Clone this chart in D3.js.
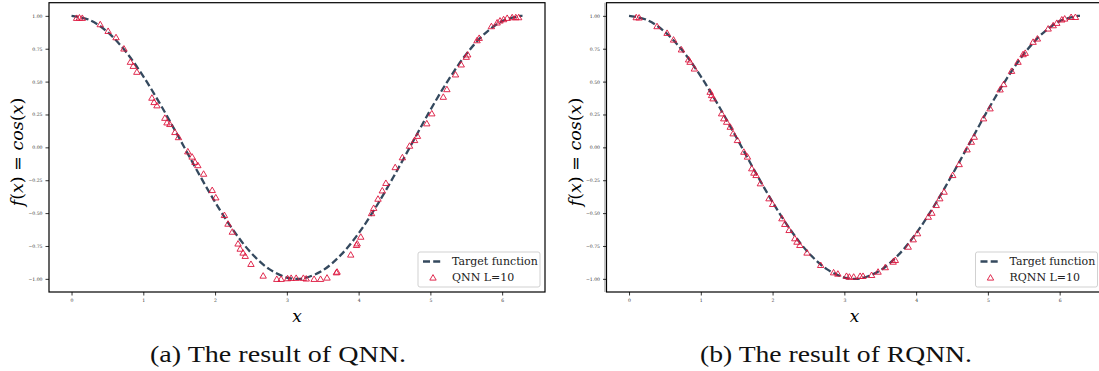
<!DOCTYPE html>
<html><head><meta charset="utf-8">
<script src="https://cdn.jsdelivr.net/npm/d3@7"></script>
<style>
html,body{margin:0;padding:0;background:#fff;}
svg{display:block;}
</style></head>
<body>
<svg id="chart" width="1099" height="371"></svg>
<script>
// ---- data ----
const xTicks = [0, 1, 2, 3, 4, 5, 6];
const yTicks = [-1.0, -0.75, -0.5, -0.25, 0.0, 0.25, 0.5, 0.75, 1.0];
const xDomain = [-0.314, 6.597];
const yDomain = [-1.1, 1.1];

const targetX = [0, 0.25, 0.5, 0.75, 1.0, 1.25, 1.5, 1.75, 2.0, 2.25, 2.5, 2.75, 3.0, 3.1416, 3.25, 3.5, 3.75, 4.0, 4.25, 4.5, 4.75, 5.0, 5.25, 5.5, 5.75, 6.0, 6.25, 6.2832];
const targetY = [1.0, 0.969, 0.878, 0.732, 0.540, 0.315, 0.071, -0.178, -0.416, -0.628, -0.801, -0.924, -0.990, -1.0, -0.994, -0.936, -0.820, -0.654, -0.446, -0.211, 0.037, 0.284, 0.512, 0.709, 0.861, 0.960, 0.999, 1.0];

const qnnX = [0.07, 0.11, 0.15, 0.40, 0.51, 0.62, 0.73, 0.82, 0.86, 0.91, 1.12, 1.15, 1.19, 1.30, 1.33, 1.37, 1.44, 1.49, 1.62, 1.68, 1.72, 1.76, 1.84, 1.96, 2.01, 2.13, 2.18, 2.24, 2.32, 2.35, 2.39, 2.42, 2.50, 2.67, 2.86, 2.92, 3.01, 3.06, 3.13, 3.23, 3.27, 3.38, 3.47, 3.56, 3.69, 3.70, 3.89, 3.97, 3.98, 4.03, 4.18, 4.21, 4.27, 4.33, 4.38, 4.51, 4.61, 4.71, 4.78, 4.82, 4.95, 5.02, 5.18, 5.23, 5.35, 5.43, 5.50, 5.52, 5.65, 5.68, 5.85, 5.93, 5.97, 6.02, 6.07, 6.14, 6.19, 6.23];
const qnnY = [0.985, 0.988, 0.985, 0.937, 0.886, 0.838, 0.752, 0.651, 0.620, 0.575, 0.378, 0.345, 0.320, 0.225, 0.190, 0.178, 0.117, 0.078, -0.030, -0.070, -0.110, -0.135, -0.200, -0.324, -0.380, -0.514, -0.580, -0.641, -0.731, -0.770, -0.800, -0.825, -0.886, -0.975, -1.000, -1.000, -0.995, -0.992, -0.992, -0.992, -0.997, -1.000, -1.000, -0.990, -0.950, -0.945, -0.815, -0.742, -0.730, -0.679, -0.500, -0.460, -0.390, -0.327, -0.270, -0.150, -0.075, 0.013, 0.056, 0.088, 0.183, 0.259, 0.385, 0.443, 0.555, 0.631, 0.689, 0.707, 0.815, 0.833, 0.922, 0.950, 0.965, 0.975, 0.985, 0.990, 0.990, 0.990];

const rqnnX = [0.10, 0.14, 0.39, 0.53, 0.62, 0.73, 0.83, 0.85, 0.91, 1.13, 1.15, 1.17, 1.29, 1.32, 1.36, 1.41, 1.45, 1.51, 1.60, 1.65, 1.71, 1.74, 1.77, 1.83, 1.95, 2.00, 2.13, 2.17, 2.23, 2.31, 2.34, 2.38, 2.48, 2.67, 2.85, 2.91, 3.03, 3.07, 3.13, 3.22, 3.26, 3.38, 3.47, 3.57, 3.68, 3.71, 3.89, 3.96, 4.02, 4.17, 4.22, 4.28, 4.33, 4.39, 4.51, 4.60, 4.71, 4.77, 4.81, 4.94, 5.03, 5.17, 5.22, 5.33, 5.42, 5.49, 5.52, 5.63, 5.69, 5.84, 5.91, 5.96, 6.03, 6.07, 6.16, 6.22];
const rqnnY = [0.990, 0.988, 0.922, 0.871, 0.820, 0.745, 0.669, 0.651, 0.600, 0.423, 0.398, 0.373, 0.259, 0.221, 0.195, 0.157, 0.107, 0.056, -0.033, -0.070, -0.159, -0.192, -0.210, -0.273, -0.387, -0.430, -0.539, -0.582, -0.628, -0.691, -0.717, -0.742, -0.800, -0.894, -0.950, -0.960, -0.977, -0.983, -0.983, -0.977, -0.977, -0.970, -0.945, -0.911, -0.869, -0.856, -0.755, -0.699, -0.653, -0.527, -0.497, -0.438, -0.387, -0.337, -0.210, -0.127, -0.015, 0.043, 0.081, 0.221, 0.297, 0.441, 0.481, 0.582, 0.651, 0.709, 0.719, 0.803, 0.828, 0.904, 0.929, 0.947, 0.973, 0.980, 0.992, 0.992];

const lineLabel = "Target function";
const panels = [
  {xs: qnnX, ys: qnnY, name: "QNN L=10", caption: "(a) The result of QNN.", left: 49, right: 545, capX: 278, capW: 256},
  {xs: rqnnX, ys: rqnnY, name: "RQNN L=10", caption: "(b) The result of RQNN.", left: 606.5, right: 1102.5, capX: 836, capW: 272}
];

// ---- drawing ----
const svg = d3.select("#chart");
const TOP = 2.7, BOTTOM = 292;
const lineColor = "#34495e", markColor = "#dc143c";
const tri = "M0,-2.9L3.2,2.6L-3.2,2.6Z";

panels.forEach((p, i) => {
  const g = svg.append("g");
  const x = d3.scaleLinear().domain(xDomain).range([p.left, p.right]);
  const y = d3.scaleLinear().domain(yDomain).range([BOTTOM, TOP]);

  if (i === 1) {
    g.append("line").attr("x1", p.left - 1.6).attr("x2", p.left - 1.6)
      .attr("y1", TOP).attr("y2", BOTTOM).attr("stroke", "#aaa").attr("stroke-width", 1.2);
  }

  const ax = g.append("g").attr("transform", `translate(0,${BOTTOM})`)
    .call(d3.axisBottom(x).tickValues(xTicks).tickFormat(d3.format("d")).tickSize(3.5).tickPadding(3));
  const ay = g.append("g").attr("transform", `translate(${p.left},0)`)
    .call(d3.axisLeft(y).tickValues(yTicks).tickFormat(d3.format(".2f")).tickSize(3.5).tickPadding(3));
  [ax, ay].forEach(a => {
    a.select(".domain").remove();
    a.selectAll(".tick line").attr("stroke", "#000").attr("stroke-width", 0.8);
    a.selectAll(".tick text").attr("font-family", "DejaVu Serif").attr("font-size", 4.6).attr("fill", "#333");
  });

  g.append("rect").attr("x", p.left).attr("y", TOP)
    .attr("width", p.right - p.left).attr("height", BOTTOM - TOP)
    .attr("fill", "none").attr("stroke", "#000").attr("stroke-width", 1.2);

  const line = d3.line().x(d => x(d[0])).y(d => y(d[1])).curve(d3.curveCatmullRom);
  g.append("path").datum(d3.zip(targetX, targetY)).attr("d", line)
    .attr("fill", "none").attr("stroke", lineColor).attr("stroke-width", 2.3)
    .attr("stroke-dasharray", "7,3.2");

  g.selectAll("path.pt").data(d3.zip(p.xs, p.ys)).join("path").attr("class", "pt")
    .attr("d", tri).attr("transform", d => `translate(${x(d[0])},${y(d[1])})`)
    .attr("fill", "none").attr("stroke", markColor).attr("stroke-width", 0.9);

  const lx = p.right - 127, ly = 252;
  const lg = g.append("g");
  lg.append("rect").attr("x", lx).attr("y", ly).attr("width", 122).attr("height", 35)
    .attr("rx", 2).attr("fill", "rgba(255,255,255,0.8)").attr("stroke", "#ccc").attr("stroke-width", 0.9);
  lg.append("line").attr("x1", lx + 5).attr("x2", lx + 25).attr("y1", ly + 9.5).attr("y2", ly + 9.5)
    .attr("stroke", lineColor).attr("stroke-width", 2.3).attr("stroke-dasharray", "7,3.2");
  lg.append("path").attr("d", tri).attr("transform", `translate(${lx + 15},${ly + 25.5})`)
    .attr("fill", "none").attr("stroke", markColor).attr("stroke-width", 0.9);
  lg.append("text").attr("x", lx + 34).attr("y", ly + 9.5).attr("dy", "0.35em")
    .attr("font-family", "DejaVu Serif").attr("font-size", 11).attr("fill", "#222").text(lineLabel);
  lg.append("text").attr("x", lx + 34).attr("y", ly + 25.5).attr("dy", "0.35em")
    .attr("font-family", "DejaVu Serif").attr("font-size", 11).attr("fill", "#222").text(p.name);

  const yl = g.append("text").attr("transform", `translate(${p.left - 32},152) rotate(-90)`)
    .attr("text-anchor", "middle").attr("dy", "0.35em")
    .attr("font-family", "DejaVu Serif").attr("font-size", 17.5).attr("fill", "#000");
  [["f", true], ["(", false], ["x", true], [") = ", false], ["cos", true], ["(", false], ["x", true], [")", false]]
    .forEach(([t, it]) => yl.append("tspan").attr("font-style", it ? "italic" : "normal").text(t));

  g.append("text").attr("x", (p.left + p.right) / 2).attr("y", 316).attr("dy", "0.35em")
    .attr("text-anchor", "middle").attr("font-family", "DejaVu Serif").attr("font-style", "italic")
    .attr("font-size", 17).text("x");

  g.append("text").attr("x", p.capX).attr("y", 354).attr("dy", "0.35em")
    .attr("text-anchor", "middle").attr("font-family", "Liberation Serif")
    .attr("font-size", 24).attr("fill", "#111")
    .attr("textLength", p.capW).attr("lengthAdjust", "spacingAndGlyphs").text(p.caption);
});
</script>
</body></html>
